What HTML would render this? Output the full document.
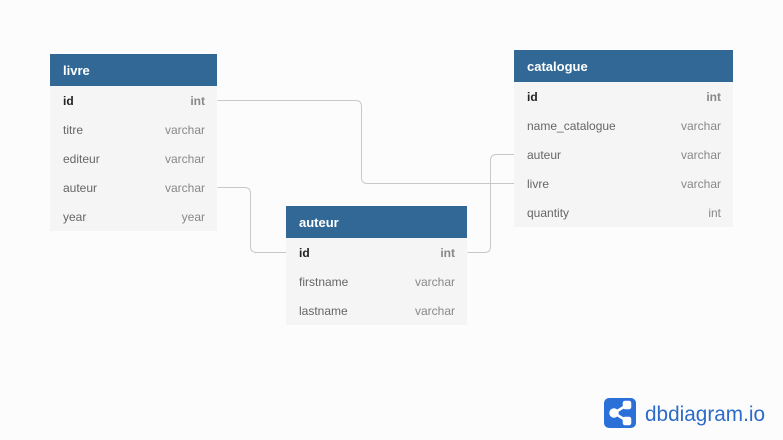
<!DOCTYPE html>
<html><head><style>
body{margin:0;width:783px;height:440px;background:#fcfcfc;position:relative;overflow:hidden;font-family:"Liberation Sans",Arial,sans-serif;}
.t{position:absolute;background:#f5f5f5;}
.h{height:32px;background:#316896;color:#fff;font-weight:bold;font-size:13px;line-height:33px;padding-left:13px;}
.r{height:29px;line-height:31px;font-size:12px;color:#666;padding:0 12px 0 13px;display:flex;justify-content:space-between;}
.r span:last-child{color:#888;}
.r.pk span:first-child{color:#222;font-weight:bold;}
.r.pk span:last-child{font-weight:bold;color:#888;}
svg{position:absolute;left:0;top:0;}
</style></head><body>
<svg width="783" height="440"><g fill="none" stroke="#c8c8c8" stroke-width="1">
<path d="M217.5 100.5H355.5Q361.5 100.5 361.5 106.5V177.5Q361.5 183.5 367.5 183.5H514"/>
<path d="M217.5 187.5H244.5Q250.5 187.5 250.5 193.5V246.5Q250.5 252.5 256.5 252.5H286"/>
<path d="M467.5 252.5H484.5Q490.5 252.5 490.5 246.5V160.5Q490.5 154.5 496.5 154.5H514"/>
</g></svg>
<div class="t" style="left:50px;top:54px;width:167px">
<div class="h">livre</div>
<div class="r pk"><span>id</span><span>int</span></div>
<div class="r"><span>titre</span><span>varchar</span></div>
<div class="r"><span>editeur</span><span>varchar</span></div>
<div class="r"><span>auteur</span><span>varchar</span></div>
<div class="r"><span>year</span><span>year</span></div>
</div>
<div class="t" style="left:514px;top:50px;width:219px">
<div class="h">catalogue</div>
<div class="r pk"><span>id</span><span>int</span></div>
<div class="r"><span>name_catalogue</span><span>varchar</span></div>
<div class="r"><span>auteur</span><span>varchar</span></div>
<div class="r"><span>livre</span><span>varchar</span></div>
<div class="r"><span>quantity</span><span>int</span></div>
</div>
<div class="t" style="left:286px;top:206px;width:181px">
<div class="h">auteur</div>
<div class="r pk"><span>id</span><span>int</span></div>
<div class="r"><span>firstname</span><span>varchar</span></div>
<div class="r"><span>lastname</span><span>varchar</span></div>
</div>
<svg width="783" height="440" style="pointer-events:none">
<rect x="604" y="398" width="32" height="30" rx="5" fill="#2b6fd8"/>
<g stroke="#fff" stroke-width="2.5" fill="#fff">
<line x1="614" y1="413" x2="627" y2="405"/><line x1="614" y1="413" x2="627" y2="421"/>
<circle cx="614" cy="413" r="3.5"/><rect x="624" y="402" width="6" height="6" rx="1"/><rect x="624" y="418" width="6" height="6" rx="1"/>
</g>
<text x="645" y="421" font-family="Liberation Sans, sans-serif" font-size="21" fill="#2d6bc9" textLength="120" lengthAdjust="spacingAndGlyphs">dbdiagram.io</text>
</svg>
</body></html>
